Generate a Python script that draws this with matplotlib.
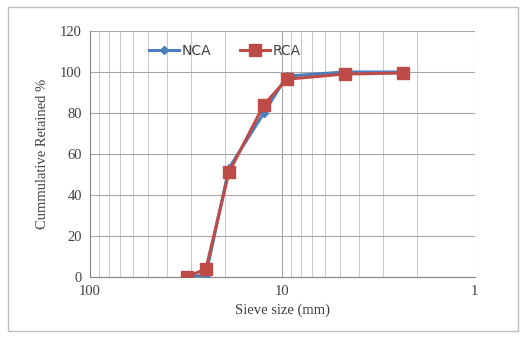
import matplotlib.pyplot as plt
from matplotlib.patches import Rectangle
from matplotlib.ticker import FixedLocator, NullFormatter

sieve = [31.5, 25, 19, 12.5, 9.5, 4.75, 2.36]
nca = [0, 1, 53, 80, 98, 100, 100]
rca = [0, 4, 51, 84, 96.5, 99, 99.5]

fig = plt.figure(figsize=(5.3, 3.37), dpi=100)
fig.patches.append(Rectangle((8 / 530, 6 / 337), 510 / 530, 324 / 337,
                             transform=fig.transFigure, fill=False,
                             edgecolor='#bfbfbf', linewidth=1))
ax = fig.add_axes([0.170, 0.178, 0.726, 0.730])

ax.plot(sieve, nca, color='#4a7ebb', marker='D', markersize=4, linewidth=2.2, label='NCA', zorder=3)
ax.plot(sieve, rca, color='#be4b48', marker='s', markersize=8.5, linewidth=2.2, label='RCA', zorder=4)

ax.set_xscale('log')
ax.set_xlim(100, 1)
ax.set_ylim(0, 120)
ax.set_yticks(range(0, 121, 20))
ax.set_xticks([100, 10, 1])
ax.set_xticklabels(['100', '10', '1'])
minors = [m * d for d in (1, 10) for m in range(2, 10)]
ax.xaxis.set_minor_locator(FixedLocator(minors))
ax.xaxis.set_minor_formatter(NullFormatter())
ax.grid(True, which='major', color='#a6a6a6', linewidth=0.8)
ax.grid(True, which='minor', axis='x', color='#bfbfbf', linewidth=0.6)
ax.set_axisbelow(True)
for s in ('top', 'right'):
    ax.spines[s].set_visible(False)
for s in ('left', 'bottom'):
    ax.spines[s].set_color('#868686')
ax.tick_params(which='both', length=0, labelsize=10.5, colors='#404040', pad=6)
for lab in ax.get_xticklabels() + ax.get_yticklabels():
    lab.set_family('Liberation Serif')

ax.set_xlabel('Sieve size (mm)', family='Liberation Serif', fontsize=10.5, color='#404040', labelpad=4)
ax.set_ylabel('Cummulative Retained %', family='Liberation Serif', fontsize=10.5, color='#404040', labelpad=8)

leg = ax.legend(loc='upper left', bbox_to_anchor=(0.12, 1.0), ncol=2, frameon=False,
                fontsize=10, handlelength=2.2, columnspacing=2.0, handletextpad=0.2)
for t in leg.get_texts():
    t.set_color('#404040')

fig.savefig('out.png', dpi=100)
